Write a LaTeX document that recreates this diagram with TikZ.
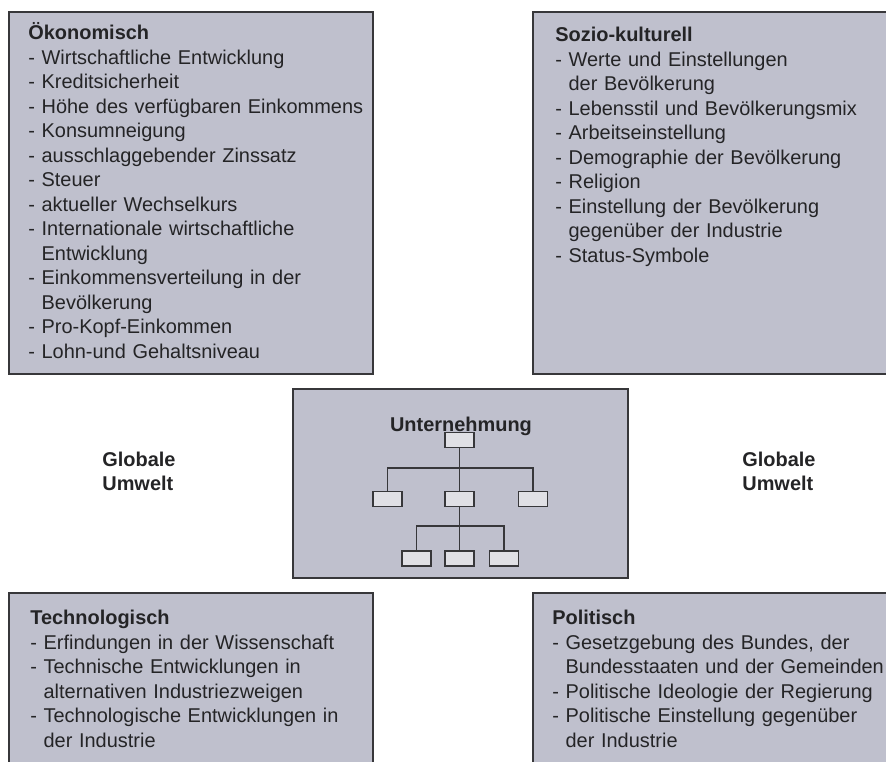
\documentclass[tikz,border=0pt]{standalone}
\usepackage{fontspec}
\setmainfont{Liberation Sans}
\usetikzlibrary{positioning}
\definecolor{panelgrey}{RGB}{191,192,205}
\definecolor{boxgrey}{RGB}{224,224,229}
\definecolor{edgegrey}{RGB}{55,55,58}
\definecolor{inkgrey}{RGB}{36,36,38}
\newcommand{\ind}{\hphantom{- }}

\begin{document}
\begin{tikzpicture}[
	panel/.style={draw=edgegrey,fill=panelgrey,line width=1.1pt},
	paneltext/.style={anchor=base west,inner sep=0pt,text width=7.2cm,align=left,text=inkgrey,font=\fontsize{11.35pt}{13.94pt}\selectfont},
	umwelt/.style={anchor=base west,inner sep=0pt,text width=2.5cm,align=left,text=inkgrey,font=\fontsize{11.35pt}{13.1pt}\selectfont\bfseries},
	orgbox/.style={draw=edgegrey,fill=boxgrey,line width=1.1pt,minimum width=0.58cm,minimum height=0.3cm,inner sep=0pt},
	orgline/.style={draw=edgegrey,line width=1.1pt}]
			\useasboundingbox (0,0) rectangle (17.72,15.24);
			\clip (0,0) rectangle (17.72,15.24);
			
			% the four environment panels
			\draw[panel] (0.18,15.0) rectangle (7.46,7.76);
			\draw[panel] (10.66,15.0) rectangle (18.2,7.76);
			\draw[panel] (0.18,3.38) rectangle (7.46,-0.5);
			\draw[panel] (10.66,3.38) rectangle (18.2,-0.5);
			% the firm in the middle
			\draw[panel] (5.86,7.46) rectangle (12.56,3.68);
			
			\node[paneltext] (okon) at (0.56,14.44) {\textbf{Ökonomisch}\\
				- Wirtschaftliche Entwicklung\\
				- Kreditsicherheit\\
				- Höhe des verfügbaren Einkommens\\
				- Konsumneigung\\
				- ausschlaggebender Zinssatz\\
				- Steuer\\
				- aktueller Wechselkurs\\
				- Internationale wirtschaftliche\\
				\ind Entwicklung\\
				- Einkommensverteilung in der\\
				\ind Bevölkerung\\
				- Pro-Kopf-Einkommen\\
				- Lohn-und Gehaltsniveau};
			\node[paneltext] (sozio) at (11.10,14.40) {\textbf{Sozio-kulturell}\\
				- Werte und Einstellungen\\
				\ind der Bevölkerung\\
				- Lebensstil und Bevölkerungsmix\\
				- Arbeitseinstellung\\
				- Demographie der Bevölkerung\\
				- Religion\\
				- Einstellung der Bevölkerung\\
				\ind gegenüber der Industrie\\
				- Status-Symbole};
			\node[paneltext] (tech) at (0.60,2.74) {\textbf{Technologisch}\\
				- Erfindungen in der Wissenschaft\\
				- Technische Entwicklungen in\\
				\ind alternativen Industriezweigen\\
				- Technologische Entwicklungen in\\
				\ind der Industrie};
			\node[paneltext] (polit) at (11.04,2.74) {\textbf{Politisch}\\
				- Gesetzgebung des Bundes, der\\
				\ind Bundesstaaten und der Gemeinden\\
				- Politische Ideologie der Regierung\\
				- Politische Einstellung gegenüber\\
				\ind der Industrie};
			
			\node[umwelt] (umweltl) at (2.04,5.90) {Globale\\Umwelt};
			\node[umwelt] (umweltr) at (14.84,5.90) {Globale\\Umwelt};
			
			% organisation chart
			\node[anchor=base,inner sep=0pt,text=inkgrey,font=\fontsize{11.35pt}{13.94pt}\selectfont\bfseries] (firm) at (9.22,6.60) {Unternehmung};
			\node[orgbox] (top) at (9.19,6.44) {};
			\node[orgbox] (ml) at (7.75,5.26) {};
			\node[orgbox] (mc) at (9.19,5.26) {};
			\node[orgbox] (mr) at (10.66,5.26) {};
			\node[orgbox] (bl) at (8.33,4.07) {};
			\node[orgbox] (bc) at (9.19,4.07) {};
			\node[orgbox] (br) at (10.08,4.07) {};
			
			\draw[orgline] (top.south) -- (mc.north);
			\draw[orgline] (ml.north) -- ++(0,0.45) -| (mr.north);
			\draw[orgline] (mc.south) -- (bc.north);
			\draw[orgline] (bl.north) -- ++(0,0.48) -| (br.north);
\end{tikzpicture}
\end{document}
